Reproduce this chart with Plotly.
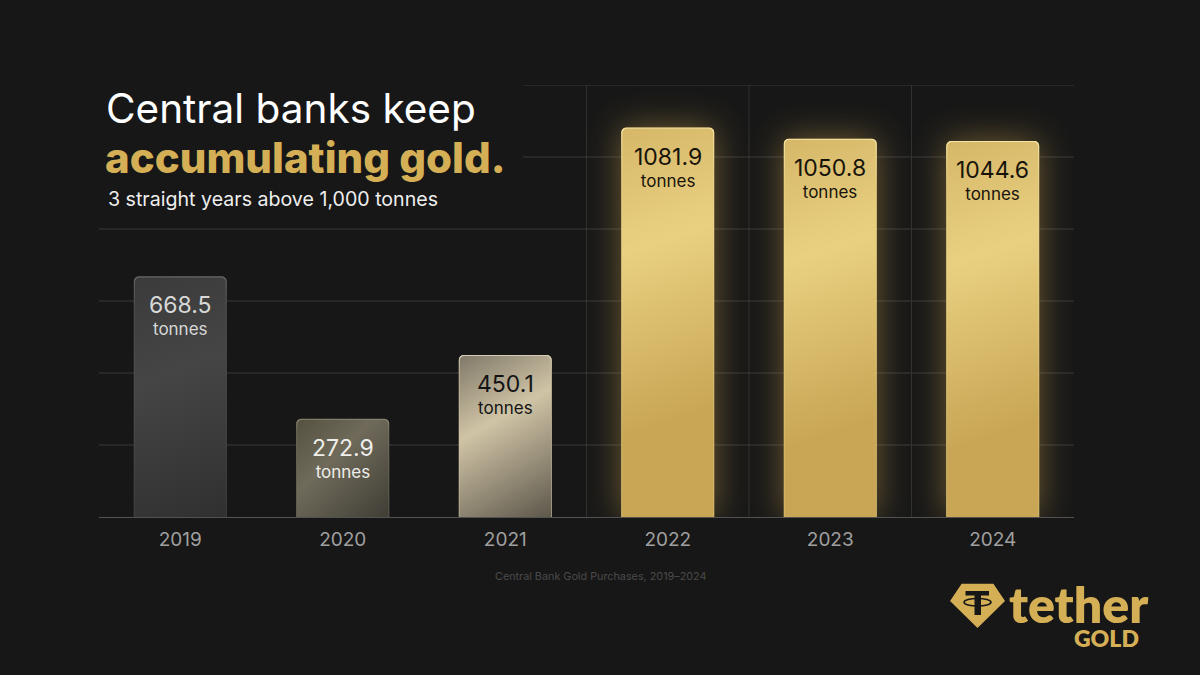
import base64
import plotly.graph_objects as go

years = ['2019', '2020', '2021', '2022', '2023', '2024']
tonnes = [668.5, 272.9, 450.1, 1081.9, 1050.8, 1044.6]
grid_values = [200, 400, 600, 800, 1000, 1200]

BG = '#171717'
GOLD = '#d4af56'
GRID = '#3b3b3b'
PX_PER_TONNE = 432 / 1200
PX_PER_SLOT = 975 / 6
BAR_PX = 93

# top-left to bottom-right colours, then edge colour and label colour
bar_styles = [
    (['#3a3b3a', '#444544', '#2f302f'], '#686968', '#d8d8d8'),
    (['#55513f', '#6f6a5a', '#3f3d35'], '#8c8876', '#eeeeea'),
    (['#7f7868', '#d0c4a6', '#5d574b'], '#d6cdb6', '#141414'),
    (['#d6b768', '#e9d081', '#c8a655'], '#f6e6a6', '#17130a'),
    (['#d6b768', '#e9d081', '#c8a655'], '#f6e6a6', '#17130a'),
    (['#d6b768', '#e9d081', '#c8a655'], '#f6e6a6', '#17130a'),
]


def svg_uri(svg):
    return 'data:image/svg+xml;base64,' + base64.b64encode(svg.encode()).decode()


def bar_svg(height, stops, edge):
    return svg_uri(
        f'<svg xmlns="http://www.w3.org/2000/svg" width="{BAR_PX}" height="{height:.0f}" '
        f'viewBox="0 0 {BAR_PX} {height:.0f}" preserveAspectRatio="none">'
        f'<defs><linearGradient id="g" gradientUnits="userSpaceOnUse" x1="0" y1="0" '
        f'x2="{BAR_PX}" y2="{min(height, 280):.0f}">'
        f'<stop offset="0" stop-color="{stops[0]}"/><stop offset="0.4" stop-color="{stops[1]}"/>'
        f'<stop offset="1" stop-color="{stops[2]}"/></linearGradient>'
        f'<linearGradient id="e" x1="0" y1="0" x2="0" y2="1">'
        f'<stop offset="0" stop-color="{edge}"/><stop offset="0.12" stop-color="{edge}" stop-opacity="0.3"/>'
        f'<stop offset="1" stop-color="{edge}" stop-opacity="0.08"/></linearGradient></defs>'
        f'<rect x="0.5" y="0.5" width="{BAR_PX - 1}" height="{height + 6:.0f}" rx="5" '
        f'fill="url(#g)" stroke="url(#e)" stroke-width="1.2"/></svg>'
    )


def glow_svg(height, pad):
    w = BAR_PX + 2 * pad
    h = height + 2 * pad
    return svg_uri(
        f'<svg xmlns="http://www.w3.org/2000/svg" width="{w}" height="{h:.0f}" '
        f'viewBox="0 0 {w} {h:.0f}" preserveAspectRatio="none">'
        f'<defs><filter id="b" x="-50%" y="-50%" width="200%" height="200%">'
        f'<feGaussianBlur stdDeviation="17"/></filter></defs>'
        f'<rect x="{pad}" y="{pad}" width="{BAR_PX}" height="{height:.0f}" '
        f'fill="#c9a24a" fill-opacity="0.5" filter="url(#b)"/></svg>'
    )


def px(x):
    return x / 1200


def py(y):
    return 1 - y / 675


fig = go.Figure()
fig.add_trace(go.Bar(
    x=list(range(len(years))), y=tonnes, width=BAR_PX / PX_PER_SLOT,
    marker=dict(color=[s[0][1] for s in bar_styles], cornerradius=5, line=dict(width=0)),
    hoverinfo='skip', showlegend=False,
))

images = []
for i, v in enumerate(tonnes):
    h = v * PX_PER_TONNE
    if i >= 3:
        pad = 60
        images.append(dict(
            source=glow_svg(h, pad), xref='x', yref='y', layer='above', sizing='stretch',
            x=i - (BAR_PX / 2 + pad) / PX_PER_SLOT, y=v + pad / PX_PER_TONNE,
            sizex=(BAR_PX + 2 * pad) / PX_PER_SLOT, sizey=(h + 2 * pad) / PX_PER_TONNE,
            xanchor='left', yanchor='top',
        ))
for i, v in enumerate(tonnes):
    h = v * PX_PER_TONNE
    images.append(dict(
        source=bar_svg(h, bar_styles[i][0], bar_styles[i][1]), xref='x', yref='y', layer='above',
        sizing='stretch', x=i - BAR_PX / 2 / PX_PER_SLOT, y=v, sizex=BAR_PX / PX_PER_SLOT, sizey=v,
        xanchor='left', yanchor='top',
    ))

shapes = []
for g in grid_values:
    # the top two lines stop short of the headline
    x0 = 2.11 if g >= 1000 else -0.5
    shapes.append(dict(type='line', xref='x', yref='y', x0=x0, x1=5.5, y0=g, y1=g,
                       line=dict(color=GRID, width=1), layer='below'))
for x in [2.5, 3.5, 4.5]:
    shapes.append(dict(type='line', xref='x', yref='y', x0=x, x1=x, y0=0, y1=1200,
                       line=dict(color='#303030', width=1), layer='below'))

# tether logo
diamond = [(951, 601), (962, 584.5), (993, 584.5), (1004, 601), (977.5, 627)]
path = 'M' + ' L'.join(f'{px(a):.4f},{py(b):.4f}' for a, b in diamond) + ' Z'
shapes.append(dict(type='path', xref='paper', yref='paper', path=path, fillcolor=GOLD,
                   line=dict(color=GOLD, width=1.5)))
shapes.append(dict(type='rect', xref='paper', yref='paper', x0=px(965.5), x1=px(989), y0=py(591), y1=py(595.5),
                   fillcolor=BG, line=dict(width=0)))
shapes.append(dict(type='rect', xref='paper', yref='paper', x0=px(974.5), x1=px(981), y0=py(595), y1=py(615),
                   fillcolor=BG, line=dict(width=0)))
shapes.append(dict(type='circle', xref='paper', yref='paper', x0=px(964), x1=px(991), y0=py(598.5), y1=py(606),
                   fillcolor='rgba(0,0,0,0)', line=dict(color=BG, width=1.6)))

annotations = []
for i, v in enumerate(tonnes):
    annotations.append(dict(x=i, y=v, xref='x', yref='y', yshift=-39, yanchor='middle', showarrow=False,
                            text=f'<span style="font-size:23px">{v:.1f}</span><br>tonnes',
                            font=dict(family='Inter', size=17, color=bar_styles[i][2])))


def label(text, x, y, size, color, weight=400, family='Inter', anchor='left'):
    annotations.append(dict(x=px(x), y=py(y), xref='paper', yref='paper', xanchor=anchor, yanchor='middle',
                            showarrow=False, text=text,
                            font=dict(family=family, size=size, color=color, weight=weight)))


label('Central banks keep', 104, 108, 40.5, '#ffffff')
label('accumulating gold.', 103, 157, 42, GOLD, weight=800)
label('3 straight years above 1,000 tonnes', 106, 199, 19.6, '#eeeeee')
label('Central Bank Gold Purchases, 2019–2024', 600, 576, 10.8, '#4a4a4a', anchor='center')
label('tether', 1007, 604, 50, GOLD, weight=800, family='Lato')
label('GOLD', 1141, 638, 23, GOLD, weight=800, family='Lato', anchor='right')

fig.update_layout(
    width=1200, height=675,
    margin=dict(l=0, r=0, t=0, b=0),
    paper_bgcolor=BG, plot_bgcolor=BG,
    images=images, shapes=shapes, annotations=annotations,
    xaxis=dict(domain=[px(99), px(1074)], range=[-0.5, 5.5], tickmode='array',
               tickvals=list(range(len(years))), ticktext=years, showgrid=False, zeroline=False,
               showline=True, linecolor='#525252', linewidth=1, ticks='', ticklabelstandoff=5,
               tickfont=dict(family='Inter', size=19, color='#a0a0a0')),
    yaxis=dict(domain=[py(517), py(85)], range=[0, 1200], showgrid=False, zeroline=False,
               showticklabels=False, ticks=''),
)

fig.write_html("out.html", config=dict(displayModeBar=False),
               post_script="document.body.style.margin='0';")
